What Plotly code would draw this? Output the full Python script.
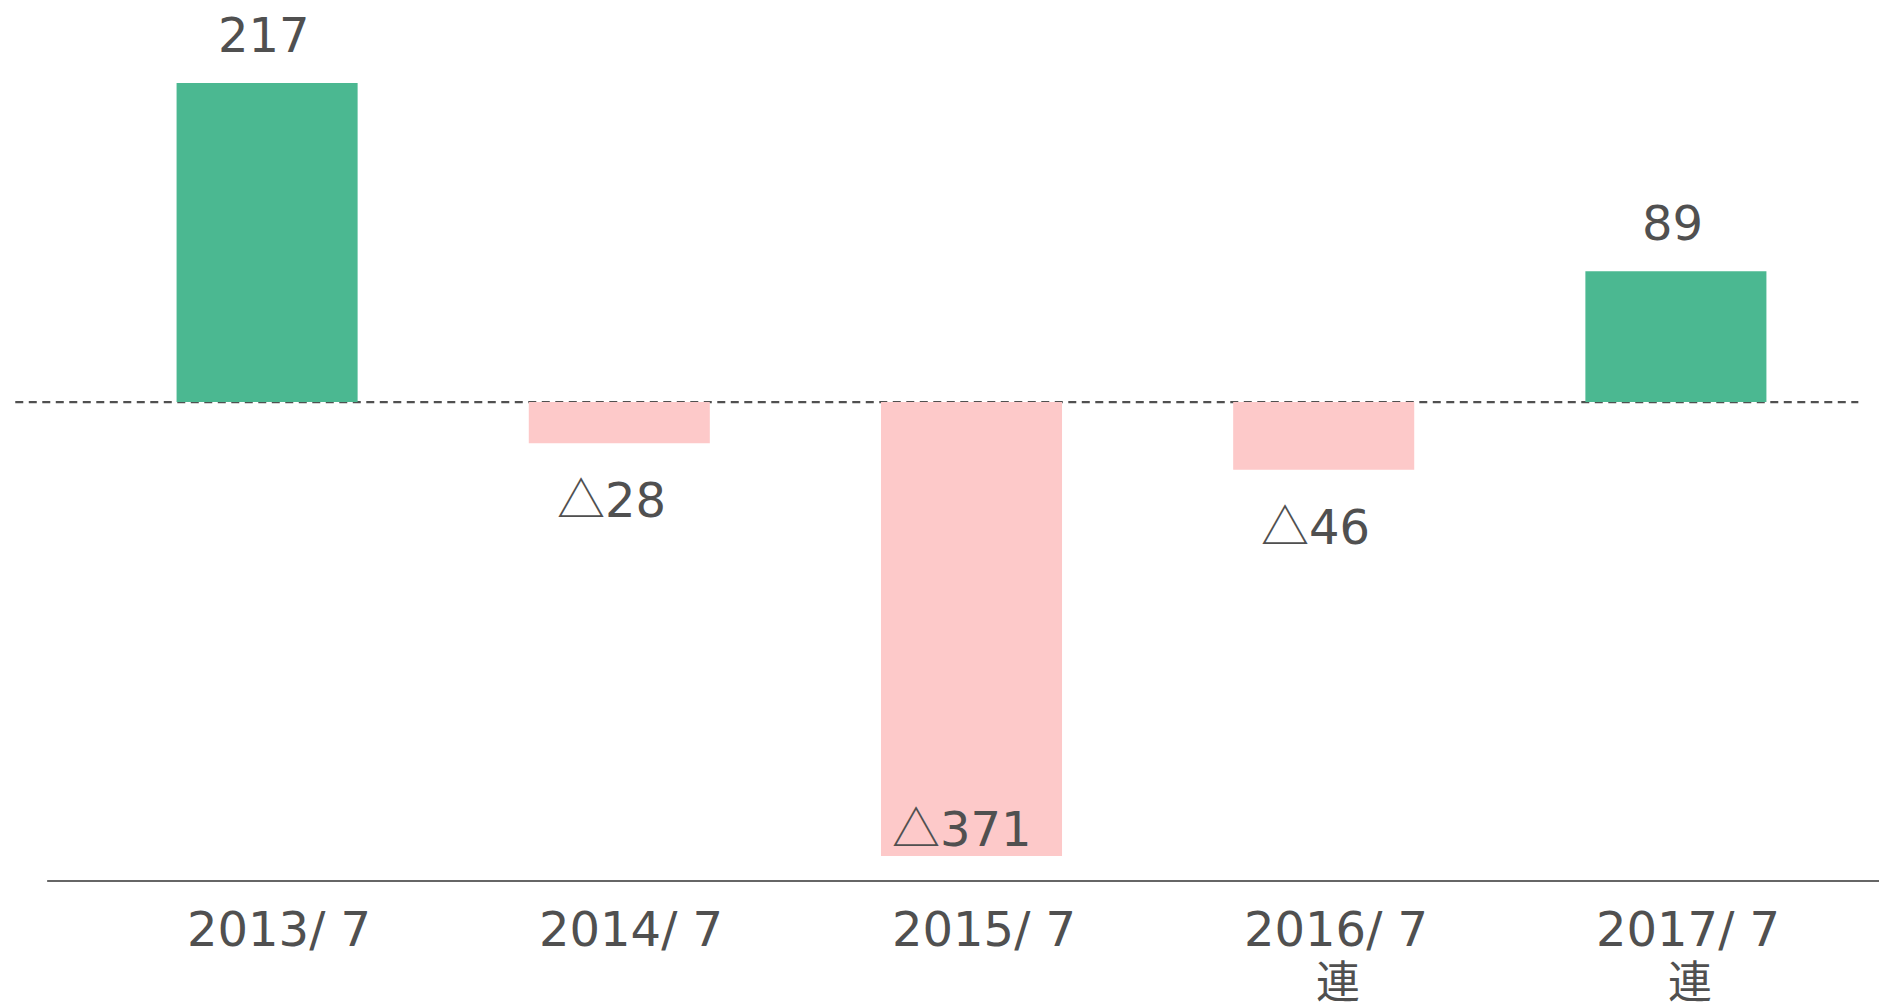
import plotly.graph_objects as go

# ---- data ----
categories = ["2013/ 7", "2014/ 7", "2015/ 7", "2016/ 7", "2017/ 7"]
sub_labels = ["", "", "", "連", "連"]
values = [217, -28, -371, -46, 89]

POS_COLOR = "#4BB891"
NEG_COLOR = "#FDC9C9"
TEXT_COLOR = "#505050"
FONT = "DejaVu Sans, Noto Sans CJK JP"
TRI = '<span style="font-family:Noto Sans CJK JP">△</span>'

Y_MIN, Y_MAX = -308.8, 273.5


def fmt(v):
    return str(v) if v >= 0 else TRI + str(abs(v))


fig = go.Figure()
fig.add_trace(go.Bar(
    x=categories,
    y=values,
    width=0.514,
    marker=dict(color=[POS_COLOR if v >= 0 else NEG_COLOR for v in values], line=dict(width=0)),
    hoverinfo="skip",
))

annotations = []
for c, v in zip(categories, values):
    if v >= 0:
        annotations.append(dict(x=c, y=v, xref="x", yref="y", text=fmt(v), showarrow=False,
                                yanchor="bottom", yshift=18, xshift=-3,
                                font=dict(family=FONT, size=48, color=TEXT_COLOR)))
    elif v < Y_MIN:
        annotations.append(dict(x=c, y=Y_MIN, xref="x", yref="y", text=fmt(v), showarrow=False,
                                yanchor="bottom", yshift=-6, xshift=-10,
                                font=dict(family=FONT, size=48, color=TEXT_COLOR)))
    else:
        annotations.append(dict(x=c, y=v, xref="x", yref="y", text=fmt(v), showarrow=False,
                                yanchor="top", yshift=-16, xshift=-8,
                                font=dict(family=FONT, size=48, color=TEXT_COLOR)))

for c, s in zip(categories, sub_labels):
    annotations.append(dict(x=c, y=-0.0508, xref="x", yref="paper", text=c, showarrow=False,
                            yanchor="top", xshift=12,
                            font=dict(family=FONT, size=48, color=TEXT_COLOR)))
    if s:
        annotations.append(dict(x=c, y=-0.1157, xref="x", yref="paper", text=s, showarrow=False,
                                yanchor="top", xshift=14,
                                font=dict(family=FONT, size=44, color=TEXT_COLOR)))

shapes = [
    dict(type="line", xref="paper", yref="y", x0=-0.043, x1=1.0036, y0=0, y1=0,
         line=dict(color="#505050", width=2.3, dash="8px,5.5px"), layer="below"),
    dict(type="line", xref="paper", yref="paper", x0=-0.0249, x1=1.02, y0=-0.0292, y1=-0.0292,
         line=dict(color="#666666", width=2), layer="above"),
]

fig.update_layout(
    width=1879, height=1007, autosize=False,
    margin=dict(l=91, r=27, t=0, b=151, pad=0),
    paper_bgcolor="white", plot_bgcolor="white",
    showlegend=False,
    xaxis=dict(type="category", range=[-0.5, 4.5], showticklabels=False, showgrid=False,
               zeroline=False, showline=False, ticks="", fixedrange=True),
    yaxis=dict(range=[Y_MIN, Y_MAX], showticklabels=False, showgrid=False,
               zeroline=False, showline=False, ticks="", fixedrange=True),
    annotations=annotations,
    shapes=shapes,
)

fig.write_html("out.html", config={"displayModeBar": False},
               post_script="document.body.style.margin='0';document.body.style.overflow='hidden';")
